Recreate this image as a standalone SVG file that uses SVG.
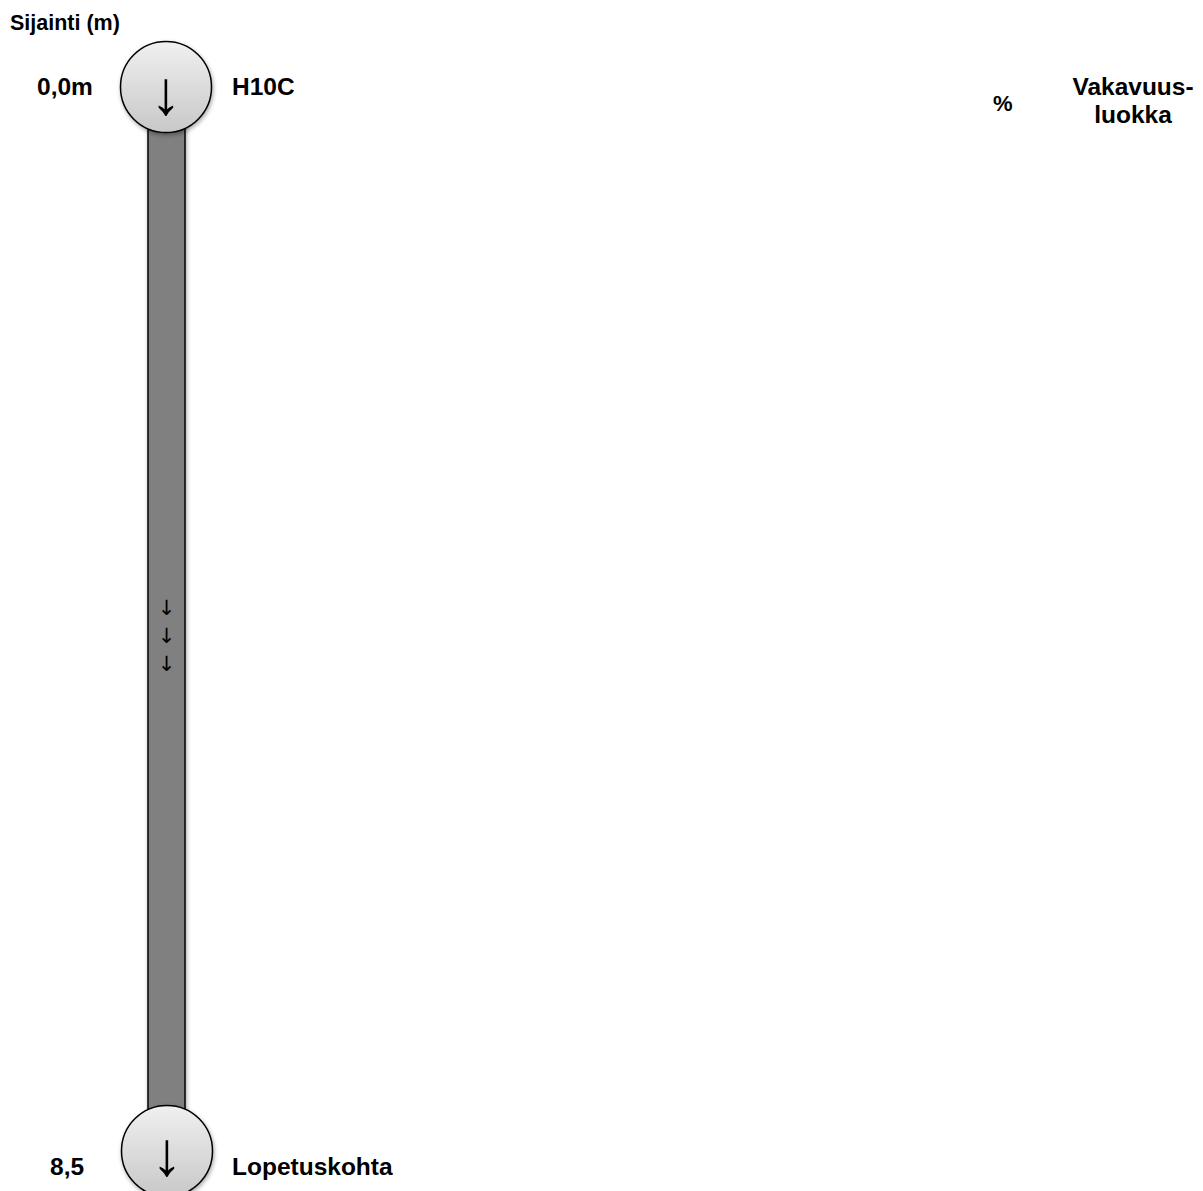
<svg xmlns="http://www.w3.org/2000/svg" width="1203" height="1191" viewBox="0 0 1203 1191">
<defs>
<linearGradient id="cg" x1="0" y1="0" x2="0" y2="1">
<stop offset="0" stop-color="#f0f0f0"/>
<stop offset="1" stop-color="#c8c8c8"/>
</linearGradient>
<filter id="sh" x="-20%" y="-20%" width="150%" height="150%">
<feGaussianBlur in="SourceAlpha" stdDeviation="2"/>
<feOffset dx="1" dy="2" result="b"/>
<feComponentTransfer><feFuncA type="linear" slope="0.35"/></feComponentTransfer>
<feMerge><feMergeNode/><feMergeNode in="SourceGraphic"/></feMerge>
</filter>
</defs>
<style>
text{font-family:"Liberation Sans",Arial,sans-serif;font-weight:bold;fill:#000}
.lbl{font-size:24.5px}
.hdr{font-size:21.5px}
.node{fill:url(#cg);stroke:#000;stroke-width:1.5}
.arr{font-family:"Liberation Sans",Arial,sans-serif;font-weight:normal;text-anchor:middle}
.sarr{font-family:"DejaVu Sans",sans-serif;font-weight:normal;text-anchor:middle;font-size:21px}
</style>
<rect width="1203" height="1191" fill="#fff"/>
<text class="hdr" x="10" y="30">Sijainti (m)</text>
<text class="lbl" x="993" y="111" style="font-size:22px">%</text>
<text class="lbl" x="1133" y="95" text-anchor="middle">Vakavuus-</text>
<text class="lbl" x="1133" y="123" text-anchor="middle">luokka</text>
<g id="connectors">
<rect x="148" y="120" width="37" height="1000" fill="#808080" stroke="#000" stroke-width="1.5" filter="url(#sh)"/>
<text class="sarr" x="166.5" y="615">↓</text>
<text class="sarr" x="166.5" y="643">↓</text>
<text class="sarr" x="166.5" y="671">↓</text>
</g>
<g id="node-start">
<circle class="node" cx="166" cy="87" r="45.5" filter="url(#sh)"/>
<text class="arr" x="166" y="114" font-size="62">↓</text>
<text class="lbl" x="37" y="95">0,0m</text>
<text class="lbl" x="232" y="95">H10C</text>
</g>
<g id="node-end">
<circle class="node" cx="167" cy="1151" r="45.5" filter="url(#sh)"/>
<text class="arr" x="167" y="1175" font-size="62">↓</text>
<text class="lbl" x="50" y="1175">8,5</text>
<text class="lbl" x="232" y="1175">Lopetuskohta</text>
</g>
</svg>
